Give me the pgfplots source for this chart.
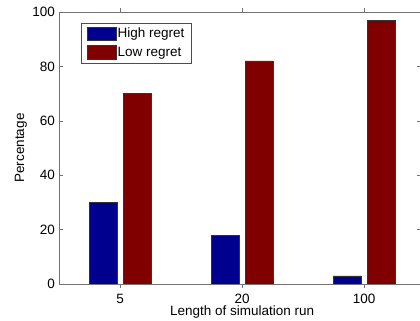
\documentclass[border=0pt]{standalone}
\usepackage{pgfplots}
\pgfplotsset{compat=1.18}
\usepackage{fontspec}
\setmainfont{Liberation Sans}
\definecolor{mblue}{RGB}{0,0,143}
\definecolor{mred}{RGB}{128,0,0}
\begin{document}
\begin{tikzpicture}
\useasboundingbox (0,0) rectangle (420pt,321pt);
\clip (0,0) rectangle (420pt,321pt);
\begin{axis}[
  at={(59pt,37pt)}, anchor=south west,
  scale only axis, width=362pt, height=272pt,
  xmin=0.5, xmax=3.465, ymin=0, ymax=100,
  xtick={1,2,3}, xticklabels={5,20,100},
  ytick={0,20,40,60,80,100},
  tick align=inside, major tick length=4pt,
  axis line style={black!55}, tick style={black!55},
  /pgf/number format/assume math mode=true,
  font=\fontsize{13.5}{16}\selectfont,
  xticklabel style={anchor=base, inner sep=0pt, yshift=-15pt},
  yticklabel style={anchor=east, inner sep=0pt, xshift=-4pt},
  xlabel={Length of simulation run},
  ylabel={Percentage},
  xlabel style={at={(axis description cs:0.506,-0.114)}, anchor=base, inner sep=0pt},
  ylabel style={at={(axis description cs:-0.105,0.5)}, anchor=center, inner sep=0pt},
  ybar, bar width=28pt,
  legend style={at={(0.06,0.9596)}, anchor=north west, draw=black!70, fill=white,
    font=\fontsize{13.5}{16}\selectfont, inner xsep=6pt, inner ysep=3.5pt,
    row sep=5pt, nodes={inner sep=1pt},
    /tikz/every even column/.append style={column sep=0pt}},
  legend cell align=left,
  legend image code/.code={\draw[#1] (0pt,-6.7pt) rectangle (29.3pt,6.7pt);},
]
\addplot[draw=black!80, fill=mblue, bar shift=-17pt] coordinates {(1,30) (2,18) (3,3)};
\addplot[draw=black!80, fill=mred, bar shift=17pt] coordinates {(1,70) (2,82) (3,97)};
\legend{High regret, Low regret}
\end{axis}
\end{tikzpicture}
\end{document}
